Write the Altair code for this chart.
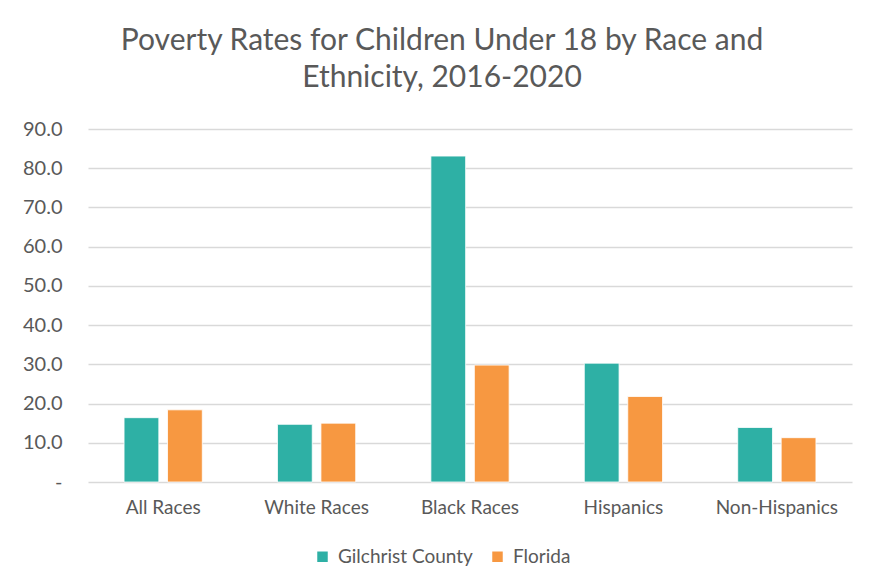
import altair as alt
import pandas as pd

categories = ["All Races", "White Races", "Black Races", "Hispanics", "Non-Hispanics"]
series = ["Gilchrist County", "Florida"]
gilchrist = [16.4, 14.7, 83.1, 30.3, 13.9]
florida = [18.4, 15.0, 29.8, 21.8, 11.3]
y_ticks = [0, 10, 20, 30, 40, 50, 60, 70, 80, 90]

rows = []
for c, g, f in zip(categories, gilchrist, florida):
    rows.append({"category": c, "series": series[0], "value": g})
    rows.append({"category": c, "series": series[1], "value": f})
df = pd.DataFrame(rows)

FONT = "Lato"
GRAY = "#595959"

chart = alt.Chart(df).mark_bar(stroke="white", strokeWidth=0.8).encode(
    x=alt.X("category:N", sort=categories, title=None,
            scale=alt.Scale(paddingInner=0.49, paddingOuter=0.235),
            axis=alt.Axis(labelAngle=0, labelFont=FONT, labelFontSize=19, labelColor=GRAY,
                          labelPadding=16, ticks=False, domain=False, grid=False)),
    xOffset=alt.XOffset("series:N", sort=series, scale=alt.Scale(paddingInner=0.2)),
    y=alt.Y("value:Q", title=None,
            scale=alt.Scale(domain=[0, 90], nice=False),
            axis=alt.Axis(values=y_ticks, labelExpr="datum.value == 0 ? '-' : format(datum.value, '.1f')",
                          labelFont=FONT, labelFontSize=20, labelColor=GRAY, labelPadding=26,
                          ticks=False, domain=False, gridColor="#d9d9d9", gridWidth=1.5)),
    color=alt.Color("series:N", sort=series, title=None,
                    scale=alt.Scale(domain=series, range=["#2EB0A5", "#F79841"]),
                    legend=alt.Legend(orient="none", legendX=225, legendY=418, direction="horizontal",
                                      symbolType="square", symbolSize=110, labelFont=FONT,
                                      labelFontSize=19, labelColor=GRAY, columnPadding=15,
                                      labelOffset=6, symbolStrokeWidth=0)),
).properties(
    width=764, height=353,
    title=alt.Title(["Poverty Rates for Children Under 18 by Race and", "Ethnicity, 2016-2020"],
                    font=FONT, fontSize=30, fontWeight="normal", color=GRAY, anchor="middle",
                    lineHeight=37, offset=26, dx=-28),
    padding={"left": 88, "top": 129, "right": 17, "bottom": 106},
    autosize=alt.AutoSizeParams(type="none"),
    background="white",
).configure_view(stroke=None)

chart.save("out.html", embed_options={"renderer": "svg", "actions": False})
